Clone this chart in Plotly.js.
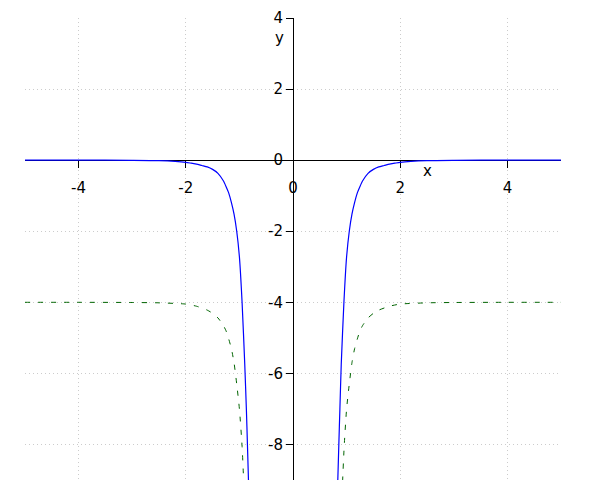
<!DOCTYPE html>
<html>
<head>
<meta charset="utf-8">
<script src="https://cdn.plot.ly/plotly-3.0.1.min.js"></script>
<style>html,body{margin:0;padding:0;background:#fff;}#chart{width:600px;height:500px;}</style>
</head>
<body>
<div id="chart"></div>
<script>
// Blue solid curve, left and right branches
const blueLeftX  = [-5, -4, -3, -2.5, -2.0, -1.9, -1.8, -1.7, -1.6, -1.5, -1.4, -1.3, -1.25, -1.2, -1.15, -1.1, -1.05, -1.0, -0.95, -0.9, -0.87, -0.85, -0.83];
const blueLeftY  = [0, 0, -0.005, -0.015, -0.06, -0.085, -0.11, -0.15, -0.19, -0.26, -0.37, -0.58, -0.74, -0.92, -1.19, -1.52, -2.0, -2.72, -4.0, -5.75, -7.0, -8.0, -9.05];
const blueRightX = [0.835, 0.855, 0.875, 0.9, 0.95, 1.0, 1.05, 1.1, 1.15, 1.2, 1.25, 1.3, 1.4, 1.5, 1.6, 1.7, 1.8, 1.9, 2.0, 2.5, 3, 4, 5];
const blueRightY = [-9.05, -8.0, -7.0, -5.75, -4.0, -2.72, -2.0, -1.52, -1.19, -0.92, -0.74, -0.58, -0.37, -0.26, -0.19, -0.15, -0.11, -0.085, -0.06, -0.015, -0.005, 0, 0];

// Green dashed curve
const greenLeftX  = [-5, -4, -3, -2.5, -2.0, -1.8, -1.6, -1.5, -1.4, -1.3, -1.25, -1.2, -1.15, -1.1, -1.05, -1.0, -0.95, -0.92];
const greenLeftY  = [-4, -4, -4.005, -4.015, -4.05, -4.11, -4.22, -4.31, -4.44, -4.65, -4.8, -5.03, -5.3, -5.7, -6.3, -7.0, -8.05, -9.05];
const greenRightX = [0.925, 0.955, 1.0, 1.05, 1.1, 1.15, 1.2, 1.25, 1.3, 1.4, 1.5, 1.6, 1.8, 2.0, 2.5, 3, 4, 5];
const greenRightY = [-9.05, -8.05, -7.0, -6.3, -5.7, -5.3, -5.03, -4.8, -4.65, -4.44, -4.31, -4.22, -4.11, -4.05, -4.015, -4.005, -4, -4];

const xTicks = [-4, -2, 0, 2, 4];
const yTicks = [-8, -6, -4, -2, 0, 2, 4];
const xRange = [-5, 5];
const yRange = [-9, 4];

const traces = [
  {
    x: greenLeftX.concat([null], greenRightX),
    y: greenLeftY.concat([null], greenRightY),
    type: 'scatter', mode: 'lines', connectgaps: false,
    line: {color: '#006400', width: 1, dash: '5px,8px', shape: 'spline', smoothing: 0.6},
    hoverinfo: 'skip'
  },
  {
    x: blueLeftX.concat([null], blueRightX),
    y: blueLeftY.concat([null], blueRightY),
    type: 'scatter', mode: 'lines', connectgaps: false,
    line: {color: '#0000ff', width: 1.2, shape: 'spline', smoothing: 0.6},
    hoverinfo: 'skip'
  }
];

const yZeroFrac = (0 - yRange[0]) / (yRange[1] - yRange[0]);
const xZeroFrac = (0 - xRange[0]) / (xRange[1] - xRange[0]);

const layout = {
  width: 600, height: 500,
  margin: {l: 25, r: 39, t: 18, b: 20, pad: 0},
  paper_bgcolor: '#fff', plot_bgcolor: '#fff',
  showlegend: false,
  font: {family: 'DejaVu Sans, sans-serif', size: 15, color: '#000'},
  xaxis: {
    range: xRange, tickvals: xTicks, ticktext: xTicks.map(String),
    anchor: 'free', position: yZeroFrac,
    showline: true, linecolor: '#000', linewidth: 1,
    ticks: 'outside', ticklen: 7, tickcolor: '#000', tickwidth: 1,
    ticklabelstandoff: 7,
    showgrid: true, gridcolor: '#cccccc', griddash: '1px,3px', gridwidth: 1,
    zeroline: false, layer: 'below traces', fixedrange: true
  },
  yaxis: {
    range: yRange, tickvals: yTicks, ticktext: yTicks.map(String),
    anchor: 'free', position: xZeroFrac,
    showline: true, linecolor: '#000', linewidth: 1,
    ticks: 'outside', ticklen: 7, tickcolor: '#000', tickwidth: 1,
    showgrid: true, gridcolor: '#cccccc', griddash: '1px,3px', gridwidth: 1,
    zeroline: false, layer: 'below traces', fixedrange: true
  },
  annotations: [
    {text: 'x', x: 2.5, y: -0.3, xref: 'x', yref: 'y', showarrow: false, font: {size: 15}},
    {text: 'y', x: -0.25, y: 3.45, xref: 'x', yref: 'y', showarrow: false, font: {size: 15}}
  ]
};

Plotly.newPlot('chart', traces, layout, {staticPlot: true, displayModeBar: false});
</script>
</body>
</html>
